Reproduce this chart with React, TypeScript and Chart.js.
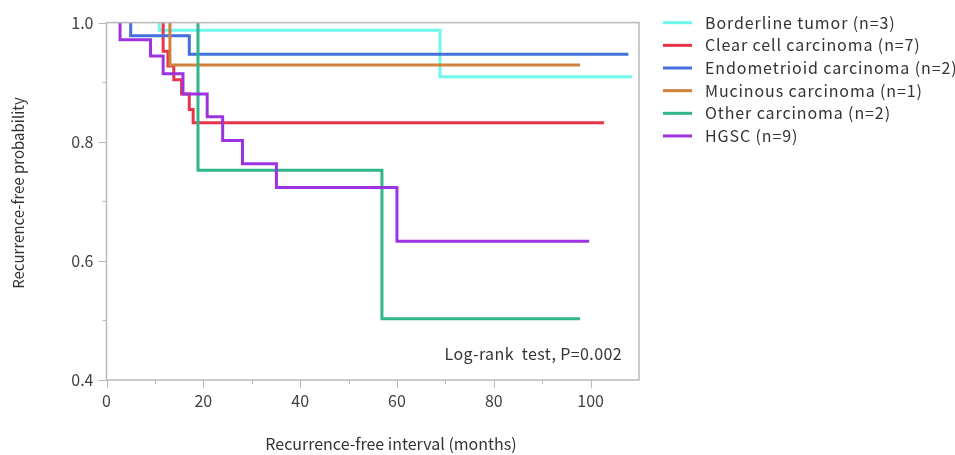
import React, { useEffect, useRef } from 'react';
import { Chart, registerables } from 'chart.js';

Chart.register(...registerables);

const FONT = '"Noto Sans CJK JP", "Noto Sans", sans-serif';

const seriesNames = [
  'Borderline tumor (n=3)',
  'Clear cell carcinoma (n=7)',
  'Endometrioid carcinoma (n=2)',
  'Mucinous carcinoma (n=1)',
  'Other carcinoma (n=2)',
  'HGSC (n=9)',
];
const seriesColors = ['#6ef7ec', '#e8354a', '#4470dc', '#d0803a', '#2fb68c', '#9d33df'];

const borderlineTimes = [10.9, 10.9, 68.9, 108.6];
const borderlineSurv = [1.0, 0.987, 0.909, 0.909];
const clearCellTimes = [11.7, 11.7, 12.7, 13.9, 15.5, 17.1, 17.9, 102.8];
const clearCellSurv = [1.0, 0.952, 0.927, 0.904, 0.88, 0.854, 0.832, 0.832];
const endometrioidTimes = [5.0, 5.0, 17.1, 107.8];
const endometrioidSurv = [1.0, 0.978, 0.947, 0.947];
const mucinousTimes = [13.1, 13.1, 97.8];
const mucinousSurv = [1.0, 0.929, 0.929];
const otherTimes = [18.9, 18.9, 56.9, 97.8];
const otherSurv = [1.0, 0.752, 0.503, 0.503];
const hgscTimes = [2.8, 2.8, 9.1, 11.7, 15.8, 20.8, 24.0, 28.1, 35.1, 60.0, 99.7];
const hgscSurv = [1.0, 0.971, 0.944, 0.914, 0.88, 0.842, 0.802, 0.763, 0.723, 0.633, 0.633];

const allTimes = [borderlineTimes, clearCellTimes, endometrioidTimes, mucinousTimes, otherTimes, hgscTimes];
const allSurv = [borderlineSurv, clearCellSurv, endometrioidSurv, mucinousSurv, otherSurv, hgscSurv];

const xMin = 0;
const xMax = 110;
const xStep = 10;
const xLabelEvery = 20;
const yMin = 0.4;
const yMax = 1.0;
const yStep = 0.1;

const xTitle = 'Recurrence-free interval (months)';
const yTitle = 'Recurrence-free probability';
const annotation = 'Log-rank  test, P=0.002';

const overlayPlugin = {
  id: 'overlay',
  afterDraw(chart: any) {
    const { ctx, chartArea: a, scales } = chart;
    const x = scales.x;
    const y = scales.y;
    ctx.save();
    ctx.strokeStyle = '#b8b8b8';
    ctx.lineWidth = 1.5;
    ctx.strokeRect(a.left, a.top, a.right - a.left, a.bottom - a.top);
    ctx.lineWidth = 1;
    for (let v = xMin; v <= 100 + 1e-9; v += xStep) {
      const px = Math.round(x.getPixelForValue(v)) + 0.5;
      const len = Math.round(v) % xLabelEvery === 0 ? 8 : 4;
      ctx.beginPath();
      ctx.moveTo(px, a.bottom);
      ctx.lineTo(px, a.bottom + len);
      ctx.stroke();
    }
    for (let i = 0; i <= Math.round((yMax - yMin) / yStep); i++) {
      const v = yMin + i * yStep;
      const py = Math.round(y.getPixelForValue(v)) + 0.5;
      const len = i % 2 === 0 ? 8 : 4;
      ctx.beginPath();
      ctx.moveTo(a.left, py);
      ctx.lineTo(a.left - len, py);
      ctx.stroke();
    }
    // axis titles
    ctx.fillStyle = '#333333';
    ctx.textBaseline = 'middle';
    ctx.textAlign = 'center';
    ctx.font = '16px ' + FONT;
    (ctx as any).letterSpacing = '0px';
    ctx.fillText(xTitle, 391, 444);
    ctx.save();
    ctx.font = '15px ' + FONT;
    ctx.translate(18, 193);
    ctx.rotate(-Math.PI / 2);
    ctx.fillText(yTitle, 0, 0);
    ctx.restore();
    // annotation
    ctx.textAlign = 'right';
    ctx.font = '16px ' + FONT;
    (ctx as any).letterSpacing = '0.4px';
    ctx.fillText(annotation, 622, 354);
    // legend
    ctx.textAlign = 'left';
    ctx.font = '16px ' + FONT;
    (ctx as any).letterSpacing = '0.9px';
    seriesNames.forEach((name, i) => {
      const cy = 22.7 + i * 22.65;
      ctx.strokeStyle = seriesColors[i];
      ctx.lineWidth = 3;
      ctx.beginPath();
      ctx.moveTo(663, cy);
      ctx.lineTo(692, cy);
      ctx.stroke();
      ctx.fillStyle = '#333333';
      ctx.fillText(name, 705, cy);
    });
    (ctx as any).letterSpacing = '0px';
    ctx.restore();
  },
};

export default function App() {
  const canvasRef = useRef<HTMLCanvasElement | null>(null);

  useEffect(() => {
    if (!canvasRef.current) return;
    const datasets = seriesNames.map((name, i) => ({
      label: name,
      data: allTimes[i].map((t, j) => ({ x: t, y: allSurv[i][j] })),
      borderColor: seriesColors[i],
      backgroundColor: seriesColors[i],
      borderWidth: 3,
      pointRadius: 0,
      stepped: 'before' as const,
      fill: false,
      order: seriesNames.length - i,
    }));
    const chart = new Chart(canvasRef.current, {
      type: 'line',
      data: { datasets },
      plugins: [overlayPlugin],
      options: {
        animation: false,
        responsive: true,
        maintainAspectRatio: false,
        layout: { padding: { left: 0, top: 21, right: 316, bottom: 0 } },
        plugins: {
          legend: { display: false },
          tooltip: { enabled: false },
        },
        scales: {
          x: {
            type: 'linear',
            min: xMin,
            max: xMax,
            grid: { display: false, drawTicks: false },
            border: { display: false },
            ticks: {
              stepSize: xStep,
              padding: 11,
              color: '#404040',
              font: { family: FONT, size: 16 },
              maxRotation: 0,
              autoSkip: false,
              callback: (v: any) => (Math.round(Number(v)) % xLabelEvery === 0 && Number(v) <= 100 ? String(Math.round(Number(v))) : ''),
            },
            afterFit: (s: any) => {
              s.height = 75;
            },
          },
          y: {
            type: 'linear',
            min: yMin,
            max: yMax,
            grid: { display: false, drawTicks: false },
            border: { display: false },
            ticks: {
              stepSize: yStep,
              padding: 13,
              color: '#404040',
              font: { family: FONT, size: 16 },
              autoSkip: false,
              callback: (v: any) => {
                const k = Math.round(Number(v) * 10);
                return k % 2 === 0 ? (k / 10).toFixed(1) : '';
              },
            },
            afterFit: (s: any) => {
              s.width = 106.5;
            },
          },
        },
      },
    });
    return () => chart.destroy();
  }, []);

  return (
    <div style={{ position: 'fixed', left: 0, top: 0, width: 955, height: 455, background: '#ffffff' }}>
      <canvas ref={canvasRef} />
    </div>
  );
}
